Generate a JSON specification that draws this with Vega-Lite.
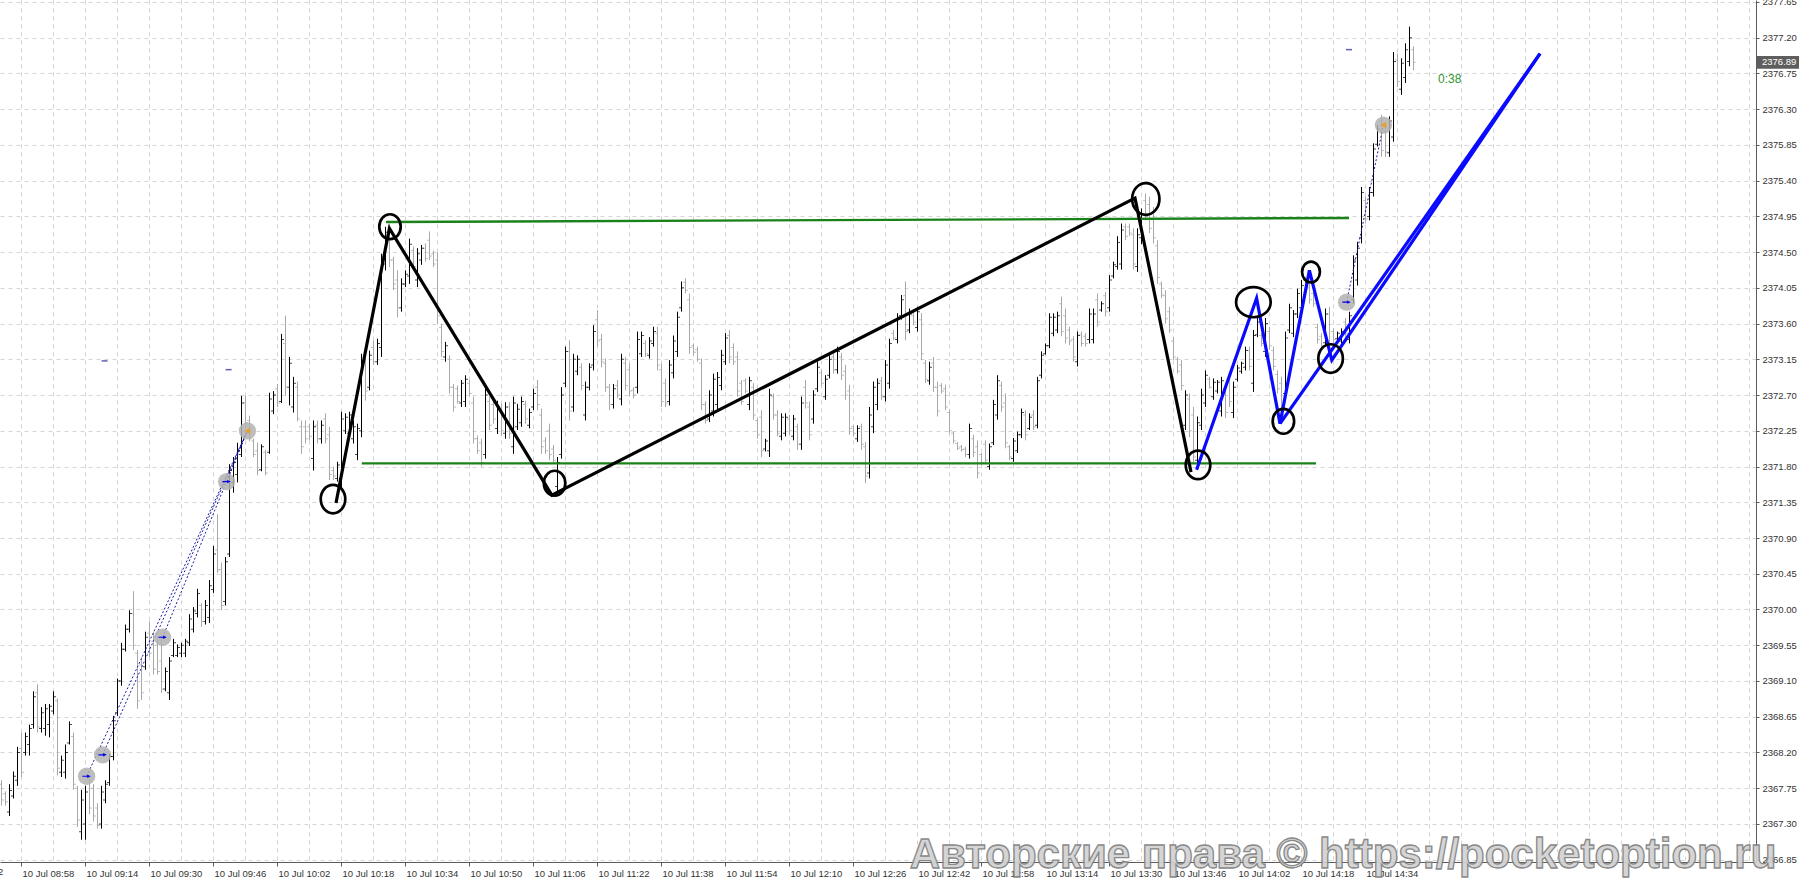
{
"$schema": "https://vega.github.io/schema/vega-lite/v6.json",
"width": 1756, "height": 862,
"autosize": {"type": "none"},
"padding": {"left": 0, "top": 0, "right": 44, "bottom": 20},
"background": "#ffffff",
"config": {
  "view": {"stroke": null},
  "axis": {"gridColor": "#d4d4d4", "gridDash": [4, 4], "gridWidth": 1, "domainColor": "#5a5a5a", "tickColor": "#5a5a5a", "labelFont": "Liberation Sans", "labelFontSize": 9.5, "labelColor": "#333333"}
},
"layer": [
  {
    "mark": {"type": "rule", "color": "#c6c6c6", "strokeWidth": 1},
    "encoding": {
      "y": {"datum": 2376.89, "type": "quantitative", "scale": {"domain": [2366.82, 2377.675], "nice": false, "zero": false}, "title": null,
        "axis": {"orient": "right", "tickCount": 200, "values": [2366.85, 2367.30, 2367.75, 2368.20, 2368.65, 2369.10, 2369.55, 2370.00, 2370.45, 2370.90, 2371.35, 2371.80, 2372.25, 2372.70, 2373.15, 2373.60, 2374.05, 2374.50, 2374.95, 2375.40, 2375.85, 2376.30, 2376.75, 2377.20, 2377.65], "format": ".2f", "grid": true, "tickSize": 3, "labelPadding": 3, "labelFlush": false, "labelOverlap": false}}
    }
  },
  {
    "data": {"values": "t,o,h,l,c\n-5,2367.80,2367.85,2367.53,2367.60\n-4,2367.68,2367.71,2367.53,2367.58\n-3,2367.45,2367.80,2367.40,2367.72\n-2,2367.65,2367.96,2367.62,2367.90\n-1,2367.85,2368.27,2367.78,2368.20\n0,2368.25,2368.45,2367.89,2367.95\n1,2368.20,2368.45,2368.16,2368.40\n2,2368.30,2368.55,2368.16,2368.50\n3,2368.55,2368.97,2368.50,2368.90\n4,2368.95,2369.06,2368.45,2368.52\n5,2368.50,2368.77,2368.45,2368.70\n6,2368.50,2368.81,2368.41,2368.75\n7,2368.55,2368.81,2368.39,2368.78\n8,2368.72,2368.97,2368.68,2368.90\n9,2368.85,2368.88,2367.91,2368.00\n10,2367.95,2368.16,2367.89,2368.10\n11,2367.95,2368.30,2367.87,2368.20\n12,2368.32,2368.59,2368.30,2368.55\n13,2368.40,2368.45,2367.73,2367.80\n14,2367.75,2367.78,2367.26,2367.35\n15,2367.20,2367.73,2367.10,2367.60\n16,2367.30,2367.78,2367.10,2367.70\n17,2367.85,2367.91,2367.42,2367.50\n18,2367.75,2367.80,2367.33,2367.40\n19,2367.50,2367.56,2367.24,2367.28\n20,2367.30,2367.78,2367.24,2367.70\n21,2367.60,2367.85,2367.56,2367.80\n22,2367.82,2368.18,2367.78,2368.15\n23,2368.15,2368.66,2368.10,2368.60\n24,2368.70,2369.13,2368.66,2369.10\n25,2369.10,2369.58,2369.04,2369.50\n26,2369.50,2369.81,2369.47,2369.75\n27,2369.75,2369.99,2369.71,2369.95\n28,2369.95,2370.23,2369.49,2369.55\n29,2369.45,2369.49,2368.75,2368.85\n30,2369.30,2369.40,2368.86,2368.95\n31,2369.28,2369.72,2369.24,2369.65\n32,2369.70,2369.85,2369.40,2369.45\n33,2369.60,2369.72,2369.18,2369.25\n34,2369.55,2369.63,2369.18,2369.22\n35,2369.35,2369.67,2368.95,2369.00\n36,2369.00,2369.27,2368.97,2369.22\n37,2368.95,2369.40,2368.86,2369.35\n38,2369.42,2369.63,2369.40,2369.58\n39,2369.42,2369.56,2369.40,2369.52\n40,2369.45,2369.58,2369.40,2369.55\n41,2369.45,2369.63,2369.40,2369.60\n42,2369.58,2369.94,2369.54,2369.88\n43,2369.75,2370.03,2369.71,2369.98\n44,2369.95,2370.26,2369.90,2370.20\n45,2370.05,2370.08,2369.78,2369.85\n46,2369.85,2370.12,2369.81,2370.05\n47,2369.90,2370.37,2369.83,2370.30\n48,2370.25,2370.80,2370.21,2370.70\n49,2370.75,2371.20,2370.46,2370.50\n50,2370.50,2370.59,2369.99,2370.05\n51,2370.10,2370.66,2370.05,2370.60\n52,2370.70,2371.83,2370.66,2371.75\n53,2371.60,2371.92,2371.47,2371.85\n54,2371.70,2372.10,2371.60,2372.00\n55,2371.95,2372.69,2371.92,2372.60\n56,2372.60,2372.69,2372.28,2372.35\n57,2372.38,2372.44,2372.12,2372.15\n58,2372.12,2372.15,2371.92,2371.95\n59,2372.00,2372.10,2371.69,2371.75\n60,2371.76,2372.08,2371.74,2372.05\n61,2371.98,2372.01,2371.69,2371.72\n62,2371.98,2372.73,2371.96,2372.65\n63,2372.50,2372.75,2372.46,2372.70\n64,2372.78,2372.84,2372.55,2372.60\n65,2372.62,2373.47,2372.60,2373.40\n66,2373.35,2373.70,2372.69,2372.80\n67,2372.80,2373.18,2372.57,2373.10\n68,2372.55,2372.93,2372.48,2372.85\n69,2372.80,2372.87,2372.37,2372.40\n70,2372.30,2372.38,2371.96,2372.05\n71,2372.30,2372.38,2372.09,2372.15\n72,2372.30,2372.34,2372.13,2372.18\n73,2371.90,2372.38,2371.75,2372.30\n74,2372.32,2372.38,2372.09,2372.15\n75,2372.15,2372.38,2372.09,2372.32\n76,2372.40,2372.47,2372.09,2372.15\n77,2372.20,2372.30,2371.63,2371.70\n78,2371.75,2371.80,2371.63,2371.68\n79,2371.65,2371.86,2371.61,2371.82\n80,2371.65,2372.49,2371.50,2372.40\n81,2372.25,2372.47,2372.21,2372.42\n82,2372.22,2372.49,2372.17,2372.45\n83,2372.15,2372.38,2372.09,2372.30\n84,2371.95,2372.34,2371.88,2372.28\n85,2372.25,2373.22,2372.17,2373.10\n86,2373.20,2373.31,2372.63,2372.75\n87,2372.80,2373.26,2372.76,2373.20\n88,2373.30,2373.39,2373.08,2373.12\n89,2373.12,2373.41,2373.08,2373.35\n90,2373.30,2374.48,2373.18,2374.40\n91,2374.35,2374.82,2374.27,2374.75\n92,2374.75,2374.86,2374.31,2374.40\n93,2374.40,2374.44,2374.02,2374.10\n94,2374.15,2374.27,2373.68,2373.80\n95,2373.80,2374.17,2373.75,2374.10\n96,2374.10,2374.27,2374.06,2374.22\n97,2374.20,2374.67,2374.10,2374.60\n98,2374.52,2374.57,2374.27,2374.32\n99,2374.15,2374.55,2374.06,2374.48\n100,2374.40,2374.59,2374.34,2374.55\n101,2374.55,2374.61,2374.38,2374.42\n102,2374.65,2374.76,2374.40,2374.45\n103,2374.48,2374.52,2374.31,2374.35\n104,2374.40,2374.50,2373.60,2373.70\n105,2373.55,2373.60,2373.18,2373.25\n106,2373.18,2373.37,2373.12,2373.32\n107,2373.15,2373.20,2372.72,2372.80\n108,2372.80,2372.84,2372.49,2372.55\n109,2372.78,2372.82,2372.59,2372.62\n110,2372.60,2372.89,2372.55,2372.85\n111,2372.62,2372.95,2372.55,2372.90\n112,2372.85,2372.89,2372.68,2372.72\n113,2372.60,2372.68,2372.09,2372.15\n114,2372.15,2372.19,2371.96,2372.00\n115,2372.10,2372.15,2371.80,2371.85\n116,2371.95,2372.80,2371.90,2372.70\n117,2372.62,2372.68,2372.26,2372.32\n118,2372.58,2372.63,2372.34,2372.40\n119,2372.28,2372.63,2372.21,2372.55\n120,2372.52,2372.59,2372.19,2372.25\n121,2372.22,2372.61,2372.15,2372.55\n122,2372.55,2372.61,2372.15,2372.22\n123,2372.05,2372.68,2371.96,2372.60\n124,2372.30,2372.59,2372.26,2372.52\n125,2372.35,2372.68,2372.30,2372.62\n126,2372.58,2372.63,2372.34,2372.40\n127,2372.32,2372.53,2372.28,2372.48\n128,2372.55,2372.78,2372.51,2372.72\n129,2372.80,2372.89,2372.51,2372.58\n130,2372.45,2372.53,2371.96,2372.05\n131,2372.12,2372.17,2371.96,2372.00\n132,2372.25,2372.34,2371.88,2371.95\n133,2372.02,2372.07,2371.84,2371.88\n134,2371.55,2371.92,2371.48,2371.85\n135,2371.95,2372.80,2371.90,2372.70\n136,2372.85,2373.31,2372.80,2373.25\n137,2373.25,2373.39,2372.38,2372.50\n138,2372.55,2373.22,2372.49,2373.15\n139,2373.00,2373.20,2372.95,2373.15\n140,2373.05,2373.10,2372.76,2372.82\n141,2372.45,2372.87,2372.38,2372.80\n142,2372.80,2373.10,2372.76,2373.05\n143,2373.08,2373.58,2373.01,2373.50\n144,2373.65,2373.77,2373.31,2373.38\n145,2373.40,2373.47,2373.05,2373.12\n146,2373.10,2373.16,2372.74,2372.80\n147,2372.80,2372.84,2372.51,2372.58\n148,2372.58,2372.84,2372.53,2372.78\n149,2372.82,2372.89,2372.66,2372.70\n150,2372.65,2373.22,2372.57,2373.15\n151,2373.10,2373.18,2372.76,2372.82\n152,2373.02,2373.10,2372.68,2372.75\n153,2372.76,2372.80,2372.66,2372.70\n154,2372.80,2373.50,2372.72,2373.40\n155,2373.22,2373.50,2373.18,2373.45\n156,2373.35,2373.39,2373.18,2373.22\n157,2373.20,2373.43,2373.16,2373.38\n158,2373.35,2373.56,2373.31,2373.50\n159,2373.48,2373.56,2373.01,2373.08\n160,2373.02,2373.10,2372.55,2372.62\n161,2372.85,2372.91,2372.55,2372.60\n162,2372.62,2373.14,2372.57,2373.08\n163,2372.98,2373.45,2372.91,2373.38\n164,2373.25,2373.75,2373.18,2373.68\n165,2373.80,2374.13,2373.75,2374.05\n166,2374.12,2374.17,2373.98,2374.02\n167,2373.90,2373.98,2373.22,2373.30\n168,2373.32,2373.35,2373.20,2373.24\n169,2373.27,2373.31,2373.12,2373.15\n170,2373.10,2373.16,2372.51,2372.58\n171,2372.58,2372.62,2372.34,2372.38\n172,2372.40,2372.76,2372.36,2372.70\n173,2372.50,2372.97,2372.43,2372.90\n174,2372.58,2372.99,2372.51,2372.92\n175,2372.82,2373.27,2372.76,2373.20\n176,2373.12,2373.48,2373.08,2373.42\n177,2373.45,2373.52,2373.10,2373.18\n178,2373.30,2373.35,2373.08,2373.12\n179,2373.18,2373.25,2372.68,2372.75\n180,2372.85,2372.89,2372.58,2372.62\n181,2372.88,2372.91,2372.72,2372.75\n182,2372.58,2372.93,2372.51,2372.88\n183,2372.80,2372.85,2372.39,2372.45\n184,2372.38,2372.41,2372.15,2372.20\n185,2372.42,2372.51,2371.92,2372.00\n186,2372.02,2372.15,2371.99,2372.12\n187,2372.00,2372.78,2371.92,2372.70\n188,2372.68,2372.72,2372.39,2372.45\n189,2372.45,2372.51,2372.18,2372.22\n190,2372.18,2372.47,2372.13,2372.42\n191,2372.22,2372.47,2372.18,2372.42\n192,2372.40,2372.45,2372.20,2372.25\n193,2372.18,2372.45,2372.13,2372.40\n194,2372.30,2372.34,2372.01,2372.08\n195,2372.08,2372.68,2372.01,2372.60\n196,2372.80,2372.89,2372.53,2372.60\n197,2372.55,2372.62,2372.13,2372.20\n198,2372.40,2372.76,2372.34,2372.70\n199,2372.78,2373.12,2372.74,2373.05\n200,2372.98,2373.02,2372.81,2372.85\n201,2372.68,2372.95,2372.64,2372.90\n202,2372.95,2373.20,2372.91,2373.15\n203,2373.18,2373.23,2372.97,2373.02\n204,2373.02,2373.31,2372.97,2373.25\n205,2373.18,2373.23,2372.89,2372.95\n206,2373.00,2373.08,2372.64,2372.70\n207,2372.75,2372.83,2372.20,2372.28\n208,2372.30,2372.32,2372.18,2372.22\n209,2372.15,2372.32,2372.11,2372.28\n210,2372.30,2372.34,2372.01,2372.08\n211,2372.05,2372.11,2371.59,2371.68\n212,2371.72,2372.55,2371.65,2372.45\n213,2372.30,2372.87,2372.22,2372.80\n214,2372.58,2372.91,2372.51,2372.85\n215,2372.88,2372.93,2372.64,2372.68\n216,2372.68,2373.14,2372.62,2373.08\n217,2372.85,2373.41,2372.78,2373.35\n218,2373.48,2373.52,2373.39,2373.42\n219,2373.40,2373.73,2373.35,2373.68\n220,2373.70,2373.96,2373.65,2373.90\n221,2373.95,2374.13,2373.39,2373.50\n222,2373.52,2373.79,2373.48,2373.72\n223,2373.70,2373.75,2373.58,2373.62\n224,2373.55,2373.81,2373.50,2373.75\n225,2373.65,2373.73,2373.14,2373.22\n226,2373.10,2373.14,2372.85,2372.90\n227,2372.88,2373.12,2372.83,2373.05\n228,2373.10,2373.18,2372.74,2372.80\n229,2372.80,2372.87,2372.43,2372.50\n230,2372.82,2372.85,2372.72,2372.75\n231,2372.78,2372.83,2372.51,2372.55\n232,2372.48,2372.51,2372.22,2372.25\n233,2372.22,2372.24,2372.09,2372.12\n234,2372.09,2372.11,2372.01,2372.03\n235,2372.05,2372.07,2371.99,2372.01\n236,2372.02,2372.05,2371.92,2371.95\n237,2371.95,2372.34,2371.90,2372.28\n238,2372.15,2372.20,2371.92,2371.98\n239,2372.05,2372.13,2371.65,2371.72\n240,2371.95,2371.97,2371.82,2371.85\n241,2372.08,2372.13,2371.84,2371.88\n242,2371.80,2372.09,2371.76,2372.05\n243,2372.10,2372.64,2372.07,2372.58\n244,2372.45,2372.95,2372.39,2372.88\n245,2372.82,2372.87,2372.49,2372.55\n246,2372.60,2372.72,2372.03,2372.10\n247,2372.05,2372.07,2371.88,2371.92\n248,2371.90,2372.16,2371.86,2372.12\n249,2372.00,2372.24,2371.97,2372.20\n250,2372.20,2372.53,2372.16,2372.48\n251,2372.45,2372.51,2372.13,2372.20\n252,2372.28,2372.47,2372.26,2372.42\n253,2372.45,2372.51,2372.26,2372.30\n254,2372.32,2372.93,2372.28,2372.88\n255,2372.95,2373.25,2372.91,2373.20\n256,2373.22,2373.35,2373.21,2373.32\n257,2373.32,2373.73,2373.29,2373.68\n258,2373.48,2373.73,2373.44,2373.68\n259,2373.52,2373.75,2373.48,2373.70\n260,2373.85,2373.94,2373.44,2373.50\n261,2373.70,2373.79,2373.35,2373.42\n262,2373.52,2373.56,2373.33,2373.38\n263,2373.40,2373.44,2373.12,2373.18\n264,2373.12,2373.50,2373.06,2373.45\n265,2373.46,2373.50,2373.31,2373.35\n266,2373.44,2373.48,2373.31,2373.35\n267,2373.40,2373.79,2373.35,2373.72\n268,2373.40,2373.79,2373.35,2373.72\n269,2373.90,2373.98,2373.56,2373.62\n270,2373.77,2373.88,2373.75,2373.85\n271,2373.95,2374.00,2373.69,2373.75\n272,2373.80,2374.21,2373.75,2374.15\n273,2374.20,2374.38,2374.17,2374.34\n274,2374.32,2374.70,2374.28,2374.62\n275,2374.35,2374.86,2374.28,2374.78\n276,2374.82,2374.86,2374.65,2374.70\n277,2374.82,2374.86,2374.70,2374.74\n278,2374.72,2374.80,2374.28,2374.35\n279,2374.32,2374.80,2374.25,2374.72\n280,2374.68,2375.05,2374.60,2374.98\n281,2375.15,2375.24,2374.90,2374.95\n282,2375.10,2375.20,2374.74,2374.80\n283,2375.00,2375.07,2374.61,2374.68\n284,2374.58,2374.65,2374.10,2374.18\n285,2374.10,2374.13,2373.92,2373.96\n286,2373.95,2374.02,2373.60,2373.66\n287,2373.75,2373.81,2373.48,2373.52\n288,2373.38,2373.43,2373.14,2373.18\n289,2373.15,2373.18,2372.97,2373.00\n290,2373.08,2373.14,2372.76,2372.82\n291,2372.32,2372.76,2372.26,2372.70\n292,2372.65,2372.72,2372.17,2372.25\n293,2372.45,2372.55,2371.84,2371.92\n294,2371.88,2372.43,2371.80,2372.35\n295,2372.32,2372.78,2372.26,2372.70\n296,2372.60,2373.01,2372.55,2372.95\n297,2372.90,2372.93,2372.78,2372.80\n298,2372.68,2372.91,2372.64,2372.86\n299,2372.75,2372.89,2372.72,2372.86\n300,2372.50,2372.93,2372.43,2372.88\n301,2372.78,2372.85,2372.41,2372.48\n302,2372.92,2372.99,2372.55,2372.62\n303,2372.48,2372.87,2372.41,2372.80\n304,2372.90,2373.08,2372.87,2373.04\n305,2373.00,2373.12,2372.97,2373.10\n306,2373.05,2373.31,2373.01,2373.26\n307,2373.26,2373.31,2373.01,2373.06\n308,2372.85,2373.52,2372.74,2373.45\n309,2373.46,2373.67,2373.43,2373.62\n310,2373.45,2373.48,2373.31,2373.35\n311,2373.25,2373.67,2373.18,2373.60\n312,2373.50,2373.56,2373.27,2373.32\n313,2373.26,2373.31,2373.01,2373.06\n314,2372.96,2373.01,2372.72,2372.78\n315,2372.85,2372.93,2372.38,2372.45\n316,2372.72,2373.50,2372.64,2373.42\n317,2373.52,2373.85,2373.48,2373.80\n318,2373.48,2373.77,2373.43,2373.72\n319,2373.72,2374.04,2373.67,2373.98\n320,2373.80,2374.15,2373.73,2374.08\n321,2374.15,2374.19,2374.02,2374.05\n322,2374.06,2374.11,2373.85,2373.90\n323,2373.98,2374.02,2373.81,2373.85\n324,2373.55,2373.60,2373.35,2373.40\n325,2373.44,2373.48,2373.27,2373.32\n326,2373.36,2373.79,2373.31,2373.72\n327,2373.72,2373.81,2373.27,2373.35\n328,2373.50,2373.54,2373.35,2373.40\n329,2373.41,2373.50,2373.39,2373.48\n330,2373.38,2373.54,2373.35,2373.50\n331,2373.62,2373.67,2373.43,2373.48\n332,2373.40,2373.75,2373.35,2373.70\n333,2373.90,2374.46,2373.85,2374.40\n334,2374.15,2374.63,2374.08,2374.55\n335,2374.68,2375.32,2374.61,2375.25\n336,2375.15,2375.20,2374.86,2374.92\n337,2374.95,2375.32,2374.90,2375.25\n338,2375.25,2375.87,2375.20,2375.80\n339,2375.86,2376.10,2375.83,2376.05\n340,2376.15,2376.23,2375.70,2375.78\n341,2376.02,2376.08,2375.70,2375.76\n342,2375.75,2376.21,2375.70,2376.15\n343,2375.95,2377.02,2375.89,2376.90\n344,2376.92,2377.00,2376.58,2376.65\n345,2376.55,2376.94,2376.48,2376.88\n346,2376.70,2377.13,2376.63,2377.05\n347,2376.90,2377.34,2376.84,2377.20\n348,2377.05,2377.09,2376.79,2376.89", "format": {"type": "csv", "parse": {"t": "number", "o": "number", "h": "number", "l": "number", "c": "number"}}},
    "encoding": {
      "x": {"field": "t", "type": "quantitative", "scale": {"domain": [-5.25, 433.75], "nice": false, "zero": false}, "title": null,
        "axis": {"tickCount": 200, "values": [-16, -8, 0, 8, 16, 24, 32, 40, 48, 56, 64, 72, 80, 88, 96, 104, 112, 120, 128, 136, 144, 152, 160, 168, 176, 184, 192, 200, 208, 216, 224, 232, 240, 248, 256, 264, 272, 280, 288, 296, 304, 312, 320, 328, 336, 344, 352, 360, 368, 376, 384, 392, 400, 408, 416, 424, 432],
          "labelExpr": "(datum.value % 16 === 0 && datum.value <= 336) ? '10 Jul ' + timeFormat(datetime(2024, 6, 10, 8, 58 + datum.value), '%H:%M') : ''",
          "labelAlign": "left", "labelOffset": 1, "labelPadding": 2, "tickSize": 4,
          "tickOpacity": {"condition": {"test": "datum.value % 16 === 0 && datum.value <= 336", "value": 1}, "value": 0},
          "labelFlush": false, "labelOverlap": false, "grid": true}},
      "color": {"condition": {"test": "datum.c >= datum.o", "value": "#000000"}, "value": "#a8a8a8"}
    },
    "layer": [
      {"mark": {"type": "rule", "strokeWidth": 1, "xOffset": 0.5},
       "encoding": {"y": {"field": "l", "type": "quantitative", "scale": {"domain": [2366.82, 2377.675], "nice": false, "zero": false}, "title": null}, "y2": {"field": "h"}}},
      {"mark": {"type": "tick", "orient": "horizontal", "size": 2, "thickness": 1, "xOffset": -1},
       "encoding": {"y": {"field": "o", "type": "quantitative", "scale": {"domain": [2366.82, 2377.675], "nice": false, "zero": false}, "title": null}}},
      {"mark": {"type": "tick", "orient": "horizontal", "size": 2, "thickness": 1, "xOffset": 2},
       "encoding": {"y": {"field": "c", "type": "quantitative", "scale": {"domain": [2366.82, 2377.675], "nice": false, "zero": false}, "title": null}}}
    ]
  },
  {
    "data": {"values": [
      {"g": "top", "t": 91.25, "p": 2374.88}, {"g": "top", "t": 332, "p": 2374.93},
      {"g": "bottom", "t": 85.2, "p": 2371.84}, {"g": "bottom", "t": 323.75, "p": 2371.84}]},
    "mark": {"type": "line", "color": "#1a821a", "strokeWidth": 2.4},
    "encoding": {
      "x": {"field": "t", "type": "quantitative", "scale": {"domain": [-5.25, 433.75], "nice": false, "zero": false}, "title": null},
      "y": {"field": "p", "type": "quantitative", "scale": {"domain": [2366.82, 2377.675], "nice": false, "zero": false}, "title": null},
      "detail": {"field": "g"}
    }
  },
  {
    "data": {"values": [
      {"i": 0, "t": 78.75, "p": 2371.34}, {"i": 1, "t": 92.1, "p": 2374.80}, {"i": 2, "t": 132.7, "p": 2371.44},
      {"i": 3, "t": 278.5, "p": 2375.18}, {"i": 4, "t": 292.5, "p": 2371.73}]},
    "mark": {"type": "line", "color": "#000000", "strokeWidth": 3.2},
    "encoding": {
      "x": {"field": "t", "type": "quantitative", "scale": {"domain": [-5.25, 433.75], "nice": false, "zero": false}, "title": null},
      "y": {"field": "p", "type": "quantitative", "scale": {"domain": [2366.82, 2377.675], "nice": false, "zero": false}, "title": null},
      "order": {"field": "i"}
    }
  },
  {
    "data": {"values": [
      {"g": "a", "i": 0, "t": 293.9, "p": 2371.76}, {"g": "a", "i": 1, "t": 308.9, "p": 2373.92},
      {"g": "a", "i": 2, "t": 314.75, "p": 2372.34}, {"g": "a", "i": 3, "t": 322.1, "p": 2374.27},
      {"g": "a", "i": 4, "t": 327.7, "p": 2373.14}, {"g": "a", "i": 5, "t": 379.75, "p": 2377.00},
      {"g": "b", "i": 0, "t": 314.75, "p": 2372.34}, {"g": "b", "i": 1, "t": 379.75, "p": 2377.00}]},
    "mark": {"type": "line", "color": "#0a0aff", "strokeWidth": 3.2},
    "encoding": {
      "x": {"field": "t", "type": "quantitative", "scale": {"domain": [-5.25, 433.75], "nice": false, "zero": false}, "title": null},
      "y": {"field": "p", "type": "quantitative", "scale": {"domain": [2366.82, 2377.675], "nice": false, "zero": false}, "title": null},
      "detail": {"field": "g"},
      "order": {"field": "i"}
    }
  },
  {
    "data": {"values": [
      {"t": 78, "p": 2371.39, "ring": "L"}, {"t": 92.25, "p": 2374.82, "ring": "M"}, {"t": 133.4, "p": 2371.59, "ring": "M"},
      {"t": 281.2, "p": 2375.17, "ring": "XL"}, {"t": 294.25, "p": 2371.82, "ring": "L"}, {"t": 308.1, "p": 2373.87, "ring": "W"},
      {"t": 315.6, "p": 2372.37, "ring": "M"}, {"t": 322.5, "p": 2374.25, "ring": "S"}, {"t": 327.4, "p": 2373.16, "ring": "L"}]},
    "layer": [
      {"transform": [{"filter": "datum.ring !== 'W'"}],
       "mark": {"type": "point", "shape": "M0,-1A0.86,1 0 1,1 0,1A0.86,1 0 1,1 0,-1Z", "filled": false, "color": "#000000", "strokeWidth": 2.7, "opacity": 1},
       "encoding": {
         "x": {"field": "t", "type": "quantitative", "scale": {"domain": [-5.25, 433.75], "nice": false, "zero": false}, "title": null},
         "y": {"field": "p", "type": "quantitative", "scale": {"domain": [2366.82, 2377.675], "nice": false, "zero": false}, "title": null},
         "size": {"field": "ring", "type": "nominal", "scale": {"domain": ["S", "M", "L", "XL", "W"], "range": [430, 1200, 1560, 2100, 1230]}, "legend": null}
       }},
      {"transform": [{"filter": "datum.ring === 'W'"}],
       "mark": {"type": "point", "shape": "M-1,0A1,0.87 0 1,1 1,0A1,0.87 0 1,1 -1,0Z", "filled": false, "color": "#000000", "strokeWidth": 2.7, "opacity": 1},
       "encoding": {
         "x": {"field": "t", "type": "quantitative", "scale": {"domain": [-5.25, 433.75], "nice": false, "zero": false}, "title": null},
         "y": {"field": "p", "type": "quantitative", "scale": {"domain": [2366.82, 2377.675], "nice": false, "zero": false}, "title": null},
         "size": {"field": "ring", "type": "nominal", "scale": {"domain": ["S", "M", "L", "XL", "W"], "range": [430, 1200, 1560, 2100, 1230]}, "legend": null}
       }}
    ]
  },
  {
    "data": {"values": [
      {"g": "1", "t": 16.4, "p": 2367.90}, {"g": "1", "t": 56.6, "p": 2372.25},
      {"g": "2", "t": 20.4, "p": 2368.17}, {"g": "2", "t": 56.6, "p": 2372.25},
      {"g": "3", "t": 35.4, "p": 2369.65}, {"g": "3", "t": 56.6, "p": 2372.25},
      {"g": "4", "t": 51.4, "p": 2371.61}, {"g": "4", "t": 56.6, "p": 2372.25},
      {"g": "5", "t": 331.4, "p": 2373.87}, {"g": "5", "t": 340.6, "p": 2376.10}]},
    "mark": {"type": "line", "color": "#1a1aa8", "strokeWidth": 1, "strokeDash": [2, 2]},
    "encoding": {
      "x": {"field": "t", "type": "quantitative", "scale": {"domain": [-5.25, 433.75], "nice": false, "zero": false}, "title": null},
      "y": {"field": "p", "type": "quantitative", "scale": {"domain": [2366.82, 2377.675], "nice": false, "zero": false}, "title": null},
      "detail": {"field": "g"}
    }
  },
  {
    "data": {"values": [
      {"t": 16.4, "p": 2367.90, "kind": "buy"}, {"t": 20.4, "p": 2368.17, "kind": "buy"}, {"t": 35.4, "p": 2369.65, "kind": "buy"},
      {"t": 51.4, "p": 2371.61, "kind": "buy"}, {"t": 56.6, "p": 2372.25, "kind": "close"},
      {"t": 331.4, "p": 2373.87, "kind": "buy"}, {"t": 340.6, "p": 2376.10, "kind": "close"}]},
    "encoding": {
      "x": {"field": "t", "type": "quantitative", "scale": {"domain": [-5.25, 433.75], "nice": false, "zero": false}, "title": null},
      "y": {"field": "p", "type": "quantitative", "scale": {"domain": [2366.82, 2377.675], "nice": false, "zero": false}, "title": null}
    },
    "layer": [
      {"mark": {"type": "point", "shape": "circle", "filled": true, "color": "#b2b2b2", "opacity": 0.85, "size": 300}},
      {"transform": [{"filter": "datum.kind === 'buy'"}],
       "mark": {"type": "point", "shape": "arrow", "angle": 90, "filled": true, "color": "#0000ee", "opacity": 1, "size": 70}},
      {"transform": [{"filter": "datum.kind === 'close'"}],
       "mark": {"type": "point", "shape": "triangle-left", "filled": true, "color": "#e3a13a", "opacity": 1, "size": 45}}
    ]
  },
  {
    "data": {"values": [{"t": 20.9, "p": 2373.13}, {"t": 51.9, "p": 2373.02}, {"t": 332, "p": 2377.05}]},
    "mark": {"type": "tick", "orient": "horizontal", "size": 6, "thickness": 1.5, "color": "#1c1c96"},
    "encoding": {
      "x": {"field": "t", "type": "quantitative", "scale": {"domain": [-5.25, 433.75], "nice": false, "zero": false}, "title": null},
      "y": {"field": "p", "type": "quantitative", "scale": {"domain": [2366.82, 2377.675], "nice": false, "zero": false}, "title": null}
    }
  },
  {
    "data": {"values": [{"t0": 434, "t1": 444.5, "p0": 2376.81, "p1": 2376.97, "p": 2376.89, "label": "2376.89"}]},
    "layer": [
      {"mark": {"type": "rect", "color": "#5e5e5e"},
       "encoding": {
         "x": {"field": "t0", "type": "quantitative", "scale": {"domain": [-5.25, 433.75], "nice": false, "zero": false}, "title": null},
         "x2": {"field": "t1"},
         "y": {"field": "p0", "type": "quantitative", "scale": {"domain": [2366.82, 2377.675], "nice": false, "zero": false}, "title": null},
         "y2": {"field": "p1"}}},
      {"mark": {"type": "text", "align": "left", "baseline": "middle", "dx": 5, "font": "Liberation Sans", "fontSize": 9.5, "color": "#ffffff"},
       "encoding": {
         "x": {"field": "t0", "type": "quantitative", "scale": {"domain": [-5.25, 433.75], "nice": false, "zero": false}, "title": null},
         "y": {"field": "p", "type": "quantitative", "scale": {"domain": [2366.82, 2377.675], "nice": false, "zero": false}, "title": null},
         "text": {"field": "label"}}}
    ]
  },
  {
    "data": {"values": [{"t": -16, "p": 2366.70, "label": "10 Jul 08:42"}]},
    "mark": {"type": "text", "align": "left", "baseline": "middle", "dx": -5.5, "font": "Liberation Sans", "fontSize": 9.5, "color": "#333333"},
    "encoding": {
      "x": {"field": "t", "type": "quantitative", "scale": {"domain": [-5.25, 433.75], "nice": false, "zero": false}, "title": null},
      "y": {"field": "p", "type": "quantitative", "scale": {"domain": [2366.82, 2377.675], "nice": false, "zero": false}, "title": null},
      "text": {"field": "label"}
    }
  },
  {
    "data": {"values": [{"t": 354.25, "p": 2376.68, "label": "0:38"}]},
    "mark": {"type": "text", "align": "left", "baseline": "middle", "font": "Liberation Sans", "fontSize": 12, "color": "#2f952f"},
    "encoding": {
      "x": {"field": "t", "type": "quantitative", "scale": {"domain": [-5.25, 433.75], "nice": false, "zero": false}, "title": null},
      "y": {"field": "p", "type": "quantitative", "scale": {"domain": [2366.82, 2377.675], "nice": false, "zero": false}, "title": null},
      "text": {"field": "label"}
    }
  },
  {
    "data": {"values": [{"t": 330.5, "p": 2366.91, "label": "Авторские права © https://pocketoption.ru"}]},
    "mark": {"type": "text", "align": "center", "baseline": "middle", "font": "Liberation Sans", "fontWeight": "bold", "fontSize": 42, "fill": "#d2d2d2", "stroke": "#808080", "strokeWidth": 1.3, "opacity": 0.92},
    "encoding": {
      "x": {"field": "t", "type": "quantitative", "scale": {"domain": [-5.25, 433.75], "nice": false, "zero": false}, "title": null},
      "y": {"field": "p", "type": "quantitative", "scale": {"domain": [2366.82, 2377.675], "nice": false, "zero": false}, "title": null},
      "text": {"field": "label"}
    }
  }
]
}
